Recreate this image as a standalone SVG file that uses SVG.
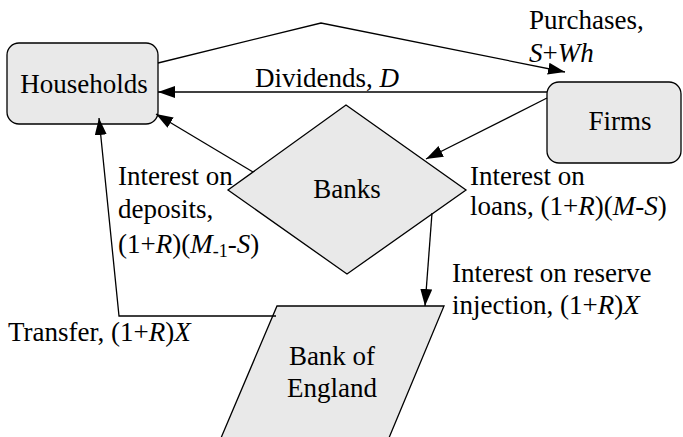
<svg xmlns="http://www.w3.org/2000/svg" width="683" height="437" viewBox="0 0 683 437" font-family="'Liberation Serif', 'Times New Roman', Tinos, 'DejaVu Serif', serif">
<style>
text{font-family:'Liberation Serif','Times New Roman',Tinos,'DejaVu Serif',serif;font-size:27px;fill:#000}
.c{text-anchor:middle}
.i{font-style:italic}
.node{fill:#e9e9e9;stroke:#000;stroke-width:1.3}
.conn{fill:none;stroke:#000;stroke-width:1.3}
</style>
<defs>
<marker id="ah" markerUnits="userSpaceOnUse" markerWidth="18" markerHeight="13" refX="17" refY="6" orient="auto">
<path d="M0,0 L17,6 L0,12 z" fill="#000"/>
</marker>
</defs>
<rect width="683" height="437" fill="#fff"/>
<g id="households">
<rect class="node" x="7" y="43" width="151" height="81" rx="12"/>
<text class="c" x="84" y="93">Households</text>
</g>
<g id="firms">
<rect class="node" x="547" y="82" width="134" height="81" rx="12"/>
<text class="c" x="620" y="130">Firms</text>
</g>
<g id="banks">
<polygon class="node" points="346,105 466,190 347,274 228,190"/>
<text class="c" x="347" y="198">Banks</text>
</g>
<g id="bank-of-england">
<polygon class="node" points="277,306 444,306 386,445 218,445"/>
<text class="c" x="332" y="365">Bank of</text>
<text class="c" x="332" y="397">England</text>
</g>
<g id="connectors">
<polyline class="conn" points="158,63 321,23 565,72" marker-end="url(#ah)"/>
<line class="conn" x1="547" y1="92" x2="158" y2="92" marker-end="url(#ah)"/>
<line class="conn" x1="253" y1="172" x2="156" y2="114" marker-end="url(#ah)"/>
<line class="conn" x1="547" y1="98" x2="426" y2="159" marker-end="url(#ah)"/>
<line class="conn" x1="432" y1="213" x2="425" y2="306" marker-end="url(#ah)"/>
<polyline class="conn" points="276,316 119,316 99,118" marker-end="url(#ah)"/>
</g>
<g id="labels">
<text x="529" y="29">Purchases,</text>
<text x="529" y="62"><tspan class="i">S</tspan>+<tspan class="i">Wh</tspan></text>
<text x="255" y="87">Dividends, <tspan class="i">D</tspan></text>
<text x="118" y="185">Interest on</text>
<text x="118" y="218">deposits,</text>
<text x="118" y="253">(1+<tspan class="i">R</tspan>)(<tspan class="i">M</tspan><tspan dy="4" font-size="18">-1</tspan><tspan dy="-4">-</tspan><tspan class="i">S</tspan>)</text>
<text x="470" y="185">Interest on</text>
<text x="470" y="215">loans, (1+<tspan class="i">R</tspan>)(<tspan class="i">M</tspan>-<tspan class="i">S</tspan>)</text>
<text x="452" y="282">Interest on reserve</text>
<text x="452" y="314">injection, (1+<tspan class="i">R</tspan>)<tspan class="i">X</tspan></text>
<text x="8" y="341">Transfer, (1+<tspan class="i">R</tspan>)<tspan class="i">X</tspan></text>
</g>
</svg>
